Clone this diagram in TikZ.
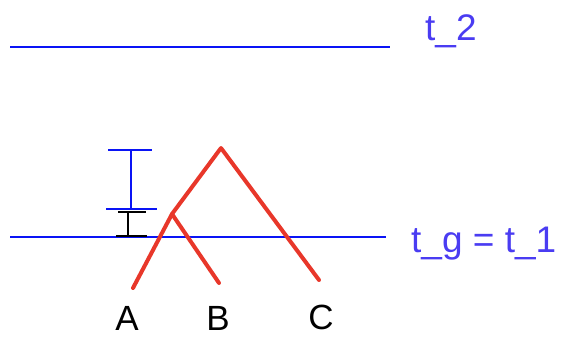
\documentclass[tikz,border=0pt]{standalone}
\usepackage{fontspec}
\setmainfont{Liberation Sans}
\usepackage{tikz}
\usetikzlibrary{arrows.meta,calc}
\definecolor{TimeBlue}{HTML}{0A14F5}
\definecolor{TimeText}{HTML}{4A3CF2}
\definecolor{TreeRed}{HTML}{E8372A}
\tikzset{
  timeline/.style={draw=TimeBlue,line width=1.6pt},
  timelabel/.style={text=TimeText,anchor=base west,inner sep=0pt,
    font=\fontsize{37}{37}\selectfont},
  leaflabel/.style={text=black,anchor=base,inner sep=0pt,text depth=0pt,
    font=\fontsize{35}{35}\selectfont},
  branch/.style={draw=TreeRed,line width=4pt,line cap=round,line join=round},
  bluebar/.style={draw=TimeBlue,line width=2pt},
  blackbar/.style={draw=black,line width=2.6pt}
}
\begin{document}
\begin{tikzpicture}[x=1pt,y=-1pt]
  \useasboundingbox (0,0) rectangle (561,338);

  % time lines
  \coordinate (t2w) at (10,47);
  \coordinate (t2e) at (390,47);
  \coordinate (tgw) at (10,237);
  \coordinate (tge) at (386,237);
  \draw[timeline] (t2w) -- (t2e);
  \draw[timeline] (tgw) -- (tge);
  \node[timelabel] (t2lab) at (425,40) {t\_2};
  \node[timelabel] (tglab) at (411,252) {t\_g = t\_1};

  % error bars
  \coordinate (bluetop) at (131,150);
  \coordinate (bluebot) at (131,209);
  \draw[bluebar] (bluetop) -- (bluebot);
  \draw[bluebar] ($(bluetop)+(-23,0)$) -- ($(bluetop)+(21,0)$);
  \draw[bluebar] ($(bluebot)+(-25,0)$) -- ($(bluebot)+(26,0)$);
  \coordinate (blacktop) at (128,212);
  \coordinate (blackbot) at (128,236);
  \draw[blackbar] (blacktop) -- (blackbot);
  \draw[blackbar] ($(blacktop)+(-10,0)$) -- ($(blacktop)+(18,0)$);
  \draw[blackbar] ($(blackbot)+(-12,0)$) -- ($(blackbot)+(19,0)$);

  % gene tree
  \coordinate (root) at (221,148);
  \coordinate (inner) at (172,214);
  \coordinate (leafA) at (133,288);
  \coordinate (leafB) at (219,283);
  \coordinate (leafC) at (319,280);
  \draw[branch] (leafA) -- (inner) -- (root) -- (leafC);
  \draw[branch] (inner) -- (leafB);

  \node[leaflabel] (A) at (127,330) {A};
  \node[leaflabel] (B) at (218,330) {B};
  \node[leaflabel] (C) at (321,329) {C};
\end{tikzpicture}
\end{document}
